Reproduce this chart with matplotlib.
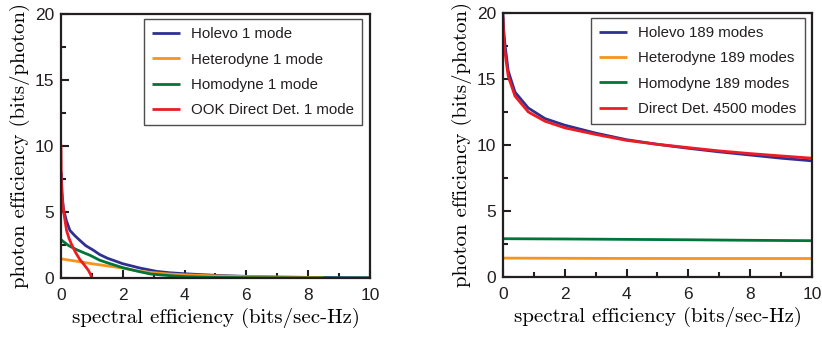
import matplotlib
matplotlib.use("Agg")
import matplotlib.pyplot as plt
from matplotlib.ticker import MultipleLocator

# ---- data ----
holevo1_x = [0.01, 0.03, 0.08, 0.18, 0.29, 0.45, 0.61, 0.8, 1.05, 1.25, 1.5, 2.0, 2.56, 3.1, 3.5, 4.0, 5.0, 6.0, 7.0, 8.0, 9.0, 10.0]
holevo1_y = [8.0, 6.5, 5.2, 4.3, 3.6, 3.2, 2.85, 2.45, 2.1, 1.78, 1.5, 1.08, 0.75, 0.5, 0.4, 0.32, 0.2, 0.12, 0.07, 0.04, 0.02, 0.01]

het1_x = [0.0, 0.5, 1.0, 1.48, 2.0, 2.56, 3.0, 3.5, 4.0, 5.0, 6.0, 7.0, 8.0, 8.5]
het1_y = [1.45, 1.27, 1.08, 0.92, 0.75, 0.5, 0.4, 0.3, 0.24, 0.16, 0.11, 0.07, 0.05, 0.04]

hom1_x = [0.0, 0.08, 0.25, 0.5, 0.75, 0.94, 1.25, 1.5, 2.0, 2.5, 2.9, 3.5, 4.0, 5.0, 6.0, 8.0, 10.0]
hom1_y = [2.9, 2.75, 2.45, 2.15, 1.9, 1.72, 1.35, 1.15, 0.78, 0.5, 0.3, 0.18, 0.1, 0.04, 0.02, 0.005, 0.0]

ook1_x = [0.0, 0.01, 0.04, 0.08, 0.18, 0.26, 0.35, 0.48, 0.61, 0.75, 0.88, 0.95, 1.0]
ook1_y = [10.1, 7.5, 6.0, 5.1, 3.6, 3.0, 2.5, 1.9, 1.4, 1.0, 0.6, 0.3, 0.0]

holevo189_x = [0.0, 0.02, 0.065, 0.17, 0.39, 0.82, 1.36, 2.0, 3.0, 4.0, 5.0, 6.0, 7.0, 8.0, 9.0, 10.0]
holevo189_y = [20.0, 18.8, 17.6, 15.6, 14.0, 12.8, 12.0, 11.5, 10.9, 10.4, 10.05, 9.75, 9.48, 9.24, 9.0, 8.8]

dd4500_x = [0.0, 0.02, 0.065, 0.17, 0.39, 0.82, 1.36, 2.0, 3.0, 4.0, 5.0, 6.0, 7.0, 8.0, 9.0, 10.0]
dd4500_y = [19.7, 18.3, 17.0, 15.2, 13.7, 12.5, 11.8, 11.3, 10.8, 10.35, 10.05, 9.8, 9.55, 9.35, 9.17, 9.0]

hom189_x = [0.0, 2.0, 4.0, 6.0, 8.0, 10.0]
hom189_y = [2.9, 2.88, 2.85, 2.82, 2.78, 2.75]

het189_x = [0.0, 3.0, 6.0, 10.0]
het189_y = [1.43, 1.41, 1.40, 1.40]

left_labels = ["Holevo 1 mode", "Heterodyne 1 mode", "Homodyne 1 mode", "OOK Direct Det. 1 mode"]
right_labels = ["Holevo 189 modes", "Heterodyne 189 modes", "Homodyne 189 modes", "Direct Det. 4500 modes"]
xlabel = "spectral efficiency (bits/sec-Hz)"
ylabel = "photon efficiency (bits/photon)"

BLUE = "#2E3192"
ORANGE = "#F7941D"
GREEN = "#00753A"
RED = "#ED1C24"
INK = "#231f20"

fig = plt.figure(figsize=(8.22, 3.39), dpi=100)
ax1 = fig.add_axes([0.0742, 0.180, 0.3759, 0.7787])
ax2 = fig.add_axes([0.6119, 0.1829, 0.3759, 0.7788])

lw = 2.0
line_kw = dict(lw=lw, solid_joinstyle='round', solid_capstyle='butt')

def style(ax):
    ax.set_xlim(0, 10)
    ax.set_ylim(0, 20)
    ax.xaxis.set_major_locator(MultipleLocator(2))
    ax.xaxis.set_minor_locator(MultipleLocator(1))
    ax.yaxis.set_major_locator(MultipleLocator(5))
    ax.yaxis.set_minor_locator(MultipleLocator(2.5))
    ax.tick_params(which='both', direction='in', top=False, right=False, width=1.5,
                   labelsize=12.5, colors=INK)
    ax.tick_params(which='major', length=6)
    ax.tick_params(which='minor', length=3.5)
    ax.tick_params(axis='x', pad=7)
    ax.tick_params(axis='y', pad=5)
    for lab in ax.get_xticklabels() + ax.get_yticklabels():
        lab.set_fontfamily('Liberation Sans')
        lab.set_color(INK)
    for s in ax.spines.values():
        s.set_linewidth(1.6)
        s.set_color(INK)
    ax.set_xlabel(xlabel, fontfamily='cmr10', fontsize=15, labelpad=4)
    ax.set_ylabel(ylabel, fontfamily='cmr10', fontsize=15, labelpad=3)

# left panel
ax1.plot(holevo1_x, holevo1_y, color=BLUE, label=left_labels[0], **line_kw)
ax1.plot(het1_x, het1_y, color=ORANGE, label=left_labels[1], **line_kw)
ax1.plot(hom1_x, hom1_y, color=GREEN, label=left_labels[2], **line_kw)
ax1.plot(ook1_x, ook1_y, color=RED, label=left_labels[3], **line_kw)
style(ax1)

# right panel
ax2.plot(holevo189_x, holevo189_y, color=BLUE, label=right_labels[0], **line_kw)
ax2.plot(het189_x, het189_y, color=ORANGE, label=right_labels[1], **line_kw)
ax2.plot(hom189_x, hom189_y, color=GREEN, label=right_labels[2], **line_kw)
ax2.plot(dd4500_x, dd4500_y, color=RED, label=right_labels[3], **line_kw)
style(ax2)

for ax, bbox in ((ax1, (0.268, 0.981)), (ax2, (0.285, 0.981))):
    leg = ax.legend(loc='upper left', bbox_to_anchor=bbox, frameon=True, fancybox=False,
                    prop={'family': 'Liberation Sans', 'size': 10.8}, labelspacing=0.75,
                    handlelength=1.85, handletextpad=0.75, borderpad=0.55, borderaxespad=0.0)
    fr = leg.get_frame()
    fr.set_edgecolor(INK)
    fr.set_linewidth(1.0)
    for t in leg.get_texts():
        t.set_color(INK)

fig.savefig("out.png", dpi=100)
